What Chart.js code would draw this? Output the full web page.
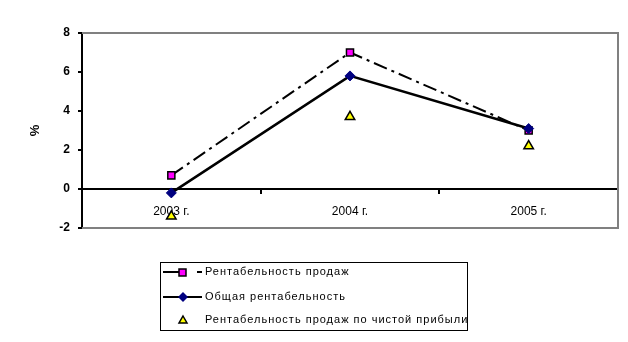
<!DOCTYPE html>
<html><head><meta charset="utf-8">
<script src="https://cdn.jsdelivr.net/npm/chart.js@4"></script>
<style>html,body{margin:0;padding:0;background:#fff}#wrap{width:628px;height:342px}</style>
</head><body><div id="wrap"><canvas id="c" width="628" height="342"></canvas></div>
<script>
const categories = ["2003 г.", "2004 г.", "2005 г."];
const salesProfitability = [0.7, 7.0, 3.0];
const overallProfitability = [-0.2, 5.8, 3.1];
const netSalesProfitability = [-1.4, 3.7, 2.2];
const seriesNames = ["Рентабельность продаж", "Общая рентабельность", "Рентабельность продаж по чистой прибыли"];
const yTicks = [-2, 0, 2, 4, 6, 8];
const yTitle = "%";

const FONT = "'Liberation Sans', Arial, sans-serif";

const frame = {
  id: 'frame',
  beforeDatasetsDraw(chart) {
    const a = chart.chartArea, ctx = chart.ctx;
    ctx.save();
    ctx.strokeStyle = '#808080';
    ctx.lineWidth = 2;
    ctx.beginPath();
    ctx.moveTo(a.left, a.top); ctx.lineTo(a.right, a.top);
    ctx.lineTo(a.right, a.bottom); ctx.lineTo(a.left, a.bottom);
    ctx.stroke();
    ctx.restore();
  }
};

const legendBox = {
  id: 'legendBox',
  afterDraw(chart) {
    const ctx = chart.ctx;
    const x0 = 160, y0 = 262, w = 307, h = 68;
    ctx.save();
    ctx.fillStyle = '#fff';
    ctx.fillRect(x0, y0, w, h);
    ctx.save();
    ctx.beginPath(); ctx.rect(x0, y0, w, h); ctx.clip();
    const rows = [272, 297, 320];
    ctx.font = "11px " + FONT;
    ctx.letterSpacing = '1px';
    ctx.fillStyle = '#000';
    ctx.textBaseline = 'middle';
    rows.forEach((y, i) => {
      ctx.fillText(seriesNames[i], 205, y);
    });
    ctx.letterSpacing = '0px';
    // row 1: dash-dot line with magenta square
    ctx.strokeStyle = '#000'; ctx.lineWidth = 2;
    ctx.beginPath(); ctx.moveTo(163, rows[0]); ctx.lineTo(180, rows[0]); ctx.stroke();
    ctx.beginPath(); ctx.moveTo(197, rows[0]); ctx.lineTo(202, rows[0]); ctx.stroke();
    ctx.fillStyle = '#FF00FF'; ctx.lineWidth = 1.5;
    ctx.fillRect(179, rows[0] - 3, 7, 7); ctx.strokeRect(179, rows[0] - 3, 7, 7);
    // row 2: solid line with navy diamond
    ctx.lineWidth = 2;
    ctx.beginPath(); ctx.moveTo(163, rows[1]); ctx.lineTo(202, rows[1]); ctx.stroke();
    ctx.fillStyle = '#000080';
    ctx.beginPath(); ctx.moveTo(183, rows[1] - 5); ctx.lineTo(188, rows[1]); ctx.lineTo(183, rows[1] + 5); ctx.lineTo(178, rows[1]); ctx.closePath(); ctx.fill();
    // row 3: yellow triangle
    ctx.fillStyle = '#FFFF00'; ctx.lineWidth = 1.5;
    ctx.beginPath(); ctx.moveTo(183, rows[2] - 4); ctx.lineTo(187, rows[2] + 3); ctx.lineTo(179, rows[2] + 3); ctx.closePath(); ctx.fill(); ctx.stroke();
    ctx.restore();
    ctx.strokeStyle = '#000'; ctx.lineWidth = 1;
    ctx.strokeRect(x0 + 0.5, y0 + 0.5, w, h);
    ctx.restore();
  }
};

new Chart(document.getElementById('c'), {
  type: 'line',
  data: {
    labels: categories,
    datasets: [
      {
        label: seriesNames[0], data: salesProfitability, order: 1,
        borderColor: '#000', borderWidth: 2, borderDash: [14, 5, 3, 5],
        pointStyle: 'rect', pointRadius: 5, pointBackgroundColor: '#FF00FF',
        pointBorderColor: '#000', pointBorderWidth: 1.5, tension: 0
      },
      {
        label: seriesNames[1], data: overallProfitability, order: 0,
        borderColor: '#000', borderWidth: 2.5,
        pointStyle: 'rectRot', pointRadius: 5, pointBackgroundColor: '#000080',
        pointBorderColor: '#000080', pointBorderWidth: 1, tension: 0
      },
      {
        label: seriesNames[2], data: netSalesProfitability, order: 2,
        showLine: false,
        pointStyle: 'triangle', pointRadius: 5.5, pointBackgroundColor: '#FFFF00',
        pointBorderColor: '#000', pointBorderWidth: 1.5
      }
    ]
  },
  options: {
    responsive: false,
    animation: false,
    events: [],
    layout: { padding: { left: 28, right: 10, top: 33, bottom: 114 } },
    plugins: { legend: { display: false }, tooltip: { enabled: false } },
    scales: {
      x: {
        position: { y: 0 },
        offset: true,
        grid: { offset: true, drawOnChartArea: false, drawTicks: true, tickLength: 4, color: '#000', lineWidth: 2 },
        border: { display: true, color: '#000', width: 2 },
        ticks: { color: '#000', font: { family: FONT, size: 12 }, padding: 11 }
      },
      y: {
        min: -2, max: 8,
        afterBuildTicks: s => { s.ticks = yTicks.map(v => ({ value: v })); },
        afterFit: s => { s.width = 54; },
        grid: { drawOnChartArea: false, drawTicks: true, tickLength: 4, color: '#000', lineWidth: 2 },
        border: { display: true, color: '#000', width: 2 },
        ticks: { color: '#000', font: { family: FONT, size: 12, weight: 'bold' }, padding: 8 },
        title: { display: true, text: yTitle, color: '#000', font: { family: FONT, size: 13, weight: 'bold' }, padding: 0 }
      }
    }
  },
  plugins: [frame, legendBox]
});
</script></body></html>
